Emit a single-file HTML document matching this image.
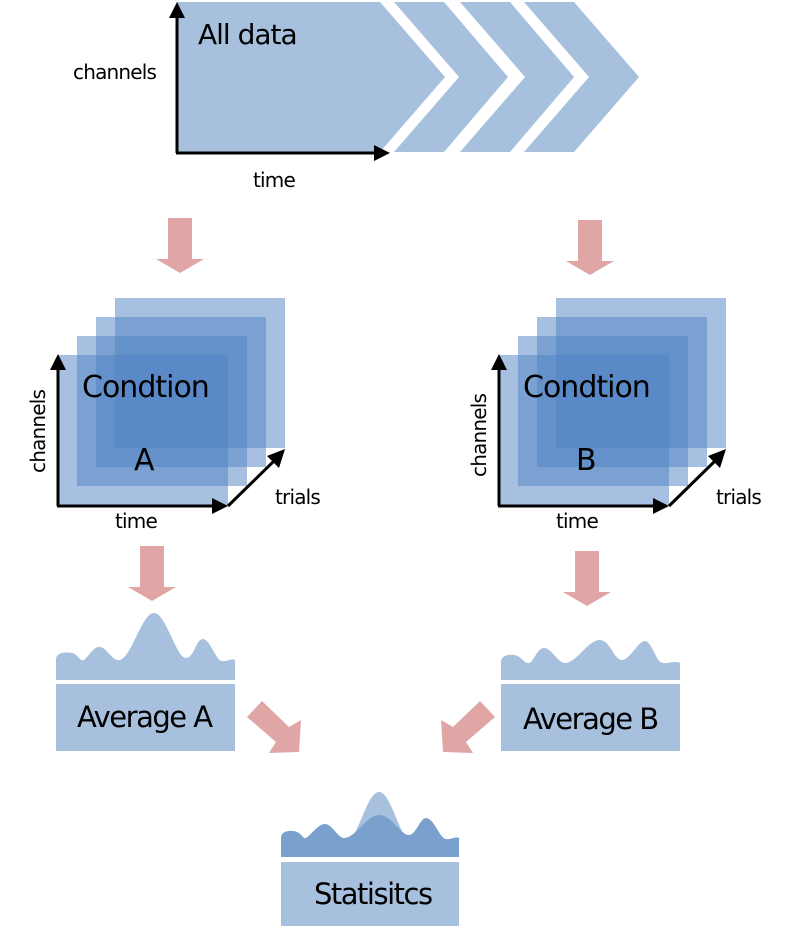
<!DOCTYPE html>
<html><head><meta charset="utf-8"><style>html,body{margin:0;padding:0;background:#fff}svg{display:block}text{font-family:"DejaVu Sans","Liberation Sans",sans-serif;fill:#000}</style></head>
<body>
<svg width="800" height="926" viewBox="0 0 800 926" xmlns="http://www.w3.org/2000/svg">
<g fill="#a7c0de">
<polygon points="177,2 380,2 445,77 380,152 177,152"/>
<polygon points="394,2 444,2 508,77 444,152 394,152 459,77"/>
<polygon points="460,2 510,2 574,77 510,152 460,152 525,77"/>
<polygon points="524,2 574,2 639,77 574,152 524,152 589,77"/>
</g>
<g stroke="#000" stroke-width="3" fill="none">
<line x1="177" y1="153" x2="177" y2="14"/><line x1="176" y1="153" x2="376" y2="153"/>
</g>
<polygon points="169,18 185,18 177,2" fill="#000"/>
<polygon points="374,145 374,161 390,153" fill="#000"/>
<text x="198" y="44" font-size="28" letter-spacing="-1">All data</text>
<text x="73" y="79" font-size="20" letter-spacing="-0.8">channels</text>
<text x="253" y="187" font-size="20" letter-spacing="-0.8">time</text>

<g fill="#e0a6a6">
<polygon points="168,218 192,218 192,259 204,259 180,273 156,259 168,259"/>
<polygon points="578,220 602,220 602,261 614,261 590,275 566,261 578,261"/>
<polygon points="140,546 164,546 164,587 176,587 152,601 128,587 140,587"/>
<polygon points="575,551 599,551 599,592 611,592 587,606 563,592 575,592"/>
<polygon points="247,717 262,701 289,727 301,720 299,752 269,753 276,742"/>
<polygon points="495,717 480,701 453,727 441,720 443,752 473,753 466,742"/>
</g>

<g fill="rgb(80,130,195)" fill-opacity="0.5">
<rect x="115" y="298" width="170" height="150"/>
<rect x="96" y="317" width="170" height="150"/>
<rect x="77" y="336" width="170" height="150"/>
<rect x="58" y="355" width="170" height="150"/>
<rect x="556" y="298" width="170" height="150"/>
<rect x="537" y="317" width="170" height="150"/>
<rect x="518" y="336" width="170" height="150"/>
<rect x="499" y="355" width="170" height="150"/>
</g>
<g stroke="#000" stroke-width="3" fill="none">
<line x1="58" y1="506" x2="58" y2="366"/><line x1="57" y1="506" x2="216" y2="506"/><line x1="228" y1="506" x2="276" y2="459"/>
<line x1="499" y1="506" x2="499" y2="366"/><line x1="498" y1="506" x2="657" y2="506"/><line x1="669" y1="506" x2="717" y2="459"/>
</g>
<g fill="#000">
<polygon points="50,370 66,370 58,354"/><polygon points="212,498 212,514 228,506"/><polygon points="285,449 279,468 267,456"/>
<polygon points="491,370 507,370 499,354"/><polygon points="653,498 653,514 669,506"/><polygon points="726,449 720,468 708,456"/>
</g>
<text x="82" y="397" font-size="30" letter-spacing="-1">Condtion</text>
<text x="134" y="470" font-size="30">A</text>
<text x="115" y="528" font-size="20" letter-spacing="-0.8">time</text>
<text x="275" y="504" font-size="20" letter-spacing="-0.8">trials</text>
<text transform="translate(45,473) rotate(-90)" font-size="20" letter-spacing="-0.8">channels</text>
<text x="523" y="397" font-size="30" letter-spacing="-1">Condtion</text>
<text x="576" y="470" font-size="30">B</text>
<text x="556" y="528" font-size="20" letter-spacing="-0.8">time</text>
<text x="716" y="504" font-size="20" letter-spacing="-0.8">trials</text>
<text transform="translate(486,477) rotate(-90)" font-size="20" letter-spacing="-0.8">channels</text>

<g fill="#a7c0de">
<path d="M56,680 L56,660 C56,652 66,652 72,653 C78,654 80,662 84,660 C90,655 94,646 100,647 C108,648 112,662 120,660 C132,656 142,613 154,613 C166,613 176,658 186,658 C194,658 196,639 203,639 C210,639 216,661 222,661 C228,662 231,658 235,660 L235,680 Z"/>
<rect x="56" y="684" width="179" height="67"/>
<path d="M501,680 L501,662 C501,656 508,654 514,655 C522,656 524,664 529,663 C534,662 537,648 544,648 C552,648 558,664 566,663 C578,661 588,640 600,640 C610,640 614,660 622,660 C630,660 638,641 645,641 C652,641 656,663 663,663 C670,664 674,660 680,663 L680,680 Z"/>
<rect x="501" y="684" width="179" height="67"/>
<path d="M350,840 C360,830 368,792 379,792 C390,792 398,830 408,840 Z"/>
<rect x="281" y="862" width="178" height="64"/>
</g>
<path fill="#7aa0cd" d="M281,857 L281,838 C281,830 292,830 297,832 C302,834 303,839 306,838 C312,834 318,824 325,824 C332,824 338,838 344,838 C356,838 366,815 379,815 C392,815 400,835 409,835 C416,835 420,818 426,818 C434,818 440,839 446,839 C452,840 455,836 459,838 L459,857 Z"/>
<text x="77" y="727" font-size="29" letter-spacing="-1.5">Average A</text>
<text x="523" y="729" font-size="29" letter-spacing="-1.5">Average B</text>
<text x="314" y="904" font-size="29" letter-spacing="-1.5">Statisitcs</text>
</svg>
</body></html>
